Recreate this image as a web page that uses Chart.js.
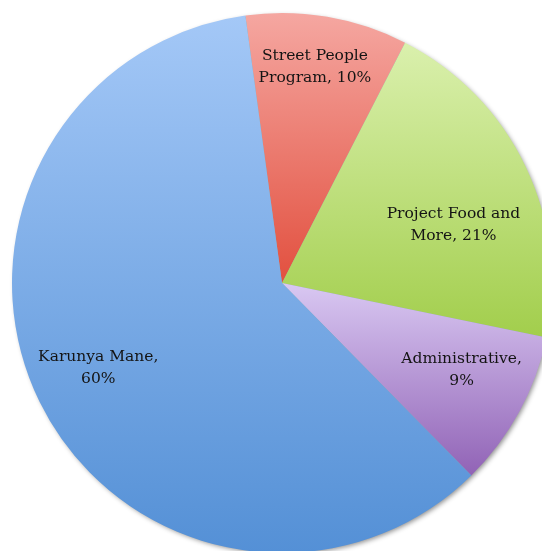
<!DOCTYPE html>
<html>
<head>
<meta charset="utf-8">
<script src="https://cdn.jsdelivr.net/npm/chart.js@4/dist/chart.umd.min.js"></script>
<style>
html,body{margin:0;padding:0;background:#fff;overflow:hidden;width:542px;height:551px;}
#wrap{position:absolute;left:0;top:0;width:564px;height:566px;}
canvas{display:block;}
</style>
</head>
<body>
<div id="wrap"><canvas id="c" width="564" height="566"></canvas></div>
<script>
const categories = ["Street People Program", "Project Food and More", "Administrative", "Karunya Mane"];
const values = [9.7, 20.7, 9.4, 60.2];
const labelLines = [["Street People", "Program, 10%"], ["Project Food and", "More, 21%"], ["Administrative,", "9%"], ["Karunya Mane,", "60%"]];
const topColors = ["#F5A7A1", "#DAF0AD", "#D9C8F2", "#A4C8F7"];
const bottomColors = ["#E2503F", "#A2CE4C", "#9163B6", "#5490D6"];
// label placement: [angle offset in degrees from slice middle, radius fraction]
const labelPlace = [[-1.0, 0.81], [7.0, 0.67], [-2.6, 0.74], [1.3, 0.75]];
const ROT = -7.8;

function sliceAngles(chart, i) {
  const total = values.reduce((a, b) => a + b, 0);
  let a = -Math.PI / 2 + ROT * Math.PI / 180;
  for (let k = 0; k < i; k++) a += values[k] / total * 2 * Math.PI;
  return [a, a + values[i] / total * 2 * Math.PI];
}

function gradFor(ctx) {
  const chart = ctx.chart;
  const i = ctx.dataIndex;
  const ca = chart.chartArea;
  if (!ca) return bottomColors[i];
  const cx = (ca.left + ca.right) / 2, cy = (ca.top + ca.bottom) / 2;
  const r = Math.min(ca.right - ca.left, ca.bottom - ca.top) / 2;
  const [a0, a1] = sliceAngles(chart, i);
  const ys = [cy, cy + r * Math.sin(a0), cy + r * Math.sin(a1)];
  for (let k = -4; k <= 4; k++) {
    const t = Math.PI / 2 + k * Math.PI;
    if (t > a0 && t < a1) ys.push(cy + r * Math.sin(t));
  }
  const y0 = Math.min(...ys), y1 = Math.max(...ys);
  const g = chart.ctx.createLinearGradient(0, y0, 0, y1);
  g.addColorStop(0, topColors[i]);
  g.addColorStop(1, bottomColors[i]);
  return g;
}

const shadowPlugin = {
  id: 'shadow',
  beforeDatasetsDraw(chart) {
    const el = chart.getDatasetMeta(0).data[0];
    if (!el) return;
    const c = chart.ctx;
    c.save();
    c.shadowColor = 'rgba(0,0,0,0.45)';
    c.shadowBlur = 5;
    c.shadowOffsetX = 2;
    c.shadowOffsetY = 2;
    c.fillStyle = '#8aa';
    c.beginPath();
    c.arc(el.x, el.y, el.outerRadius - 1, 0, Math.PI * 2);
    c.fill();
    c.restore();
  }
};

const labelPlugin = {
  id: 'sliceLabels',
  afterDatasetsDraw(chart) {
    const meta = chart.getDatasetMeta(0);
    const c = chart.ctx;
    c.save();
    c.font = '15.5px "DejaVu Serif"';
    c.fillStyle = '#141414';
    c.textAlign = 'center';
    c.textBaseline = 'middle';
    meta.data.forEach((el, i) => {
      const mid = (el.startAngle + el.endAngle) / 2 + labelPlace[i][0] * Math.PI / 180;
      const rr = el.outerRadius * labelPlace[i][1];
      const x = el.x + Math.cos(mid) * rr;
      const y = el.y + Math.sin(mid) * rr;
      const lines = labelLines[i];
      const lh = 22;
      lines.forEach((t, j) => {
        c.fillText(t, x, y + (j - (lines.length - 1) / 2) * lh);
      });
    });
    c.restore();
  }
};

new Chart(document.getElementById('c'), {
  type: 'pie',
  data: {
    labels: categories,
    datasets: [{
      data: values,
      backgroundColor: gradFor,
      borderWidth: 0,
      hoverOffset: 0
    }]
  },
  options: {
    responsive: false,
    animation: false,
    rotation: ROT,
    layout: { padding: 12 },
    plugins: { legend: { display: false }, tooltip: { enabled: false } }
  },
  plugins: [shadowPlugin, labelPlugin]
});
</script>
</body>
</html>
